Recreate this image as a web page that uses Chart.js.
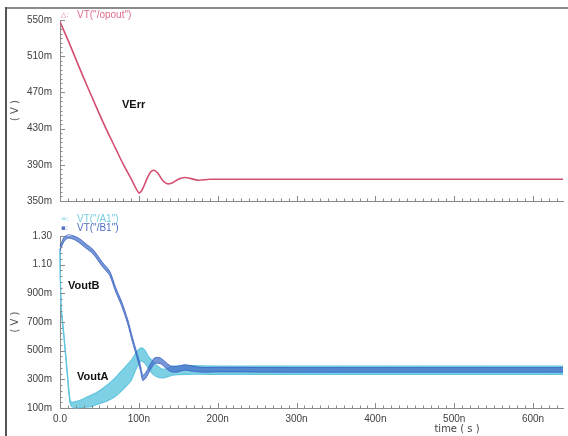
<!DOCTYPE html>
<html>
<head>
<meta charset="utf-8">
<script src="https://cdn.jsdelivr.net/npm/chart.js"></script>
<style>
  html, body { margin: 0; padding: 0; background: #ffffff; }
  #wrap { position: relative; width: 568px; height: 436px; overflow: hidden; background: #fff; }
  #topFrame { position: absolute; left: 5px; top: 7px; width: 563px; height: 2px; background: #8c8c8c; }
  #leftFrame { position: absolute; left: 5px; top: 7px; width: 2px; height: 429px; background: #555; }
  canvas { position: absolute; left: 0; }
  #c1 { top: 0; }
  #c2 { top: 210px; }
</style>
</head>
<body>
<div id="wrap">
  <canvas id="c1" width="568" height="215"></canvas>
  <canvas id="c2" width="568" height="226"></canvas>
  <div id="topFrame"></div>
  <div id="leftFrame"></div>
</div>
<script>
// ---------- DATA (time in ns, voltage in mV) ----------
const errTime  = [0, 10, 20, 30, 40, 50, 60, 70, 80, 90, 100, 104, 110, 115, 119, 124, 130, 136, 142, 150, 158, 165, 175, 190, 250, 400, 638];
const errValue = [548, 528, 507, 486, 466, 446, 427, 409, 391, 375, 359, 362, 374, 382, 384, 381, 373, 369, 370, 374, 376, 375, 373, 374, 374, 374, 374];

const aTime  = [0, 0.5, 1.5, 5, 8, 12.5, 15, 20, 30, 40, 50, 60, 70, 80, 90, 97, 103, 108, 112, 117, 122, 131, 143, 160, 200, 300, 400, 500, 638];
const aUpper = [1215, 1010, 810, 610, 430, 165, 140, 145, 165, 190, 220, 260, 310, 370, 430, 490, 520, 500, 460, 430, 400, 370, 390, 395, 392, 392, 392, 392, 392];
const aLower = [1195, 990, 790, 590, 410, 140, 110, 100, 105, 110, 130, 150, 180, 230, 290, 380, 430, 410, 380, 340, 320, 310, 330, 335, 335, 335, 335, 335, 335];

const bTime  = [0, 5, 10, 18, 25, 33, 42, 54, 63, 71, 78, 86, 92, 97, 102, 105, 109, 114, 120, 127, 133, 140, 148, 158, 168, 180, 200, 300, 400, 500, 638];
const bUpper = [1230, 1290, 1308, 1300, 1280, 1245, 1205, 1115, 1055, 935, 845, 715, 590, 495, 398, 328, 350, 400, 450, 450, 425, 395, 390, 402, 394, 383, 384, 382, 382, 382, 382];
const bLower = [1200, 1260, 1285, 1275, 1250, 1215, 1175, 1085, 1025, 905, 815, 685, 558, 465, 362, 292, 310, 360, 410, 410, 385, 355, 350, 364, 357, 350, 352, 350, 350, 350, 350];

const topTicks = [350, 390, 430, 470, 510, 550];
const bottomTicks = [100, 300, 500, 700, 900, 1100, 1300];
const timeTicks = [0, 100, 200, 300, 400, 500, 600];

// ---------- helpers ----------
const pts = (t, v) => t.map((x, i) => ({ x: x, y: v[i] }));
const fmtV = v => v >= 1000 ? (v / 1000).toFixed(2) : v + 'm';
const fmtT = v => v === 0 ? '0.0' : v + 'n';
const TICK_FONT = { family: 'Liberation Sans', size: 10 };
const TICK_COLOR = '#404040';
const AXIS_COLOR = '#8a8a8a';

const innerTicks = {
  id: 'innerTicks',
  afterDatasetsDraw(chart, args, opts) {
    const { ctx } = chart;
    const x = chart.scales.x, y = chart.scales.y;
    ctx.save();
    ctx.strokeStyle = AXIS_COLOR;
    ctx.lineWidth = 1;
    ctx.beginPath();
    for (let v = x.min; v <= x.max; v += opts.xMinor) {
      const px = Math.round(x.getPixelForValue(v)) + 0.5;
      const major = v % opts.xMajor === 0;
      ctx.moveTo(px, x.top);
      ctx.lineTo(px, x.top - (major ? 5 : 2.5));
    }
    for (let v = y.min; v <= y.max; v += opts.yMinor) {
      const py = Math.round(y.getPixelForValue(v)) + 0.5;
      const major = (v - y.min) % opts.yMajor === 0;
      ctx.moveTo(y.right, py);
      ctx.lineTo(y.right + (major ? 5 : 2.5), py);
    }
    ctx.stroke();
    ctx.restore();
  }
};

const textLabels = {
  id: 'textLabels',
  afterDraw(chart, args, opts) {
    const { ctx } = chart;
    ctx.save();
    (opts.items || []).forEach(it => {
      ctx.font = it.font;
      ctx.fillStyle = it.color;
      ctx.textAlign = it.align || 'left';
      ctx.textBaseline = 'middle';
      ctx.fillText(it.text, it.x, it.y);
    });
    ctx.restore();
  }
};

function xScale(showLabels, height) {
  return {
    type: 'linear', min: 0, max: 638,
    border: { display: true, color: AXIS_COLOR, width: 1 },
    grid: { display: false, drawTicks: false },
    ticks: {
      display: showLabels, stepSize: 100, includeBounds: false, autoSkip: false,
      maxRotation: 0, padding: 5, color: TICK_COLOR, font: TICK_FONT, callback: fmtT
    },
    afterBuildTicks: s => { s.ticks = timeTicks.map(v => ({ value: v })); },
    afterFit: s => { s.height = height; }
  };
}

function yScale(min, max, step, ticks) {
  return {
    type: 'linear', min: min, max: max,
    border: { display: true, color: AXIS_COLOR, width: 1 },
    grid: { display: false, drawTicks: false },
    ticks: { stepSize: step, padding: 8, color: TICK_COLOR, font: TICK_FONT, callback: fmtV, autoSkip: false },
    afterBuildTicks: s => { s.ticks = ticks.map(v => ({ value: v })); },
    title: { display: true, text: '( V )', color: '#555', font: { family: 'DejaVu Sans', size: 10 }, padding: { top: 9, bottom: 0 } },
    afterFit: s => { s.width = 60; }
  };
}

// ---------- top chart ----------
new Chart(document.getElementById('c1'), {
  type: 'line',
  data: {
    datasets: [{
      label: 'VT("/opout")',
      data: pts(errTime, errValue),
      borderColor: 'rgb(212, 78, 112)',
      borderWidth: 1.6,
      pointRadius: 0,
      tension: 0.3,
      fill: false
    }]
  },
  options: {
    responsive: false, animation: false,
    layout: { padding: { top: 20, right: 5, bottom: 0, left: 0 } },
    plugins: {
      legend: { display: false }, tooltip: { enabled: false },
      innerTicks: { xMinor: 10, xMajor: 100, yMinor: 5, yMajor: 40 },
      textLabels: { items: [
        { text: '△:', x: 61, y: 15, font: '7px "DejaVu Sans"', color: 'rgb(222, 120, 148)' },
        { text: 'VT("/opout")', x: 77, y: 15.5, font: '10px "Liberation Sans"', color: 'rgb(222, 110, 140)' },
        { text: 'VErr', x: 122, y: 105, font: 'bold 11px "Liberation Sans"', color: '#111' }
      ] }
    },
    scales: { x: xScale(false, 14), y: yScale(350, 550, 40, topTicks) }
  },
  plugins: [innerTicks, textLabels]
});

// ---------- bottom chart ----------
new Chart(document.getElementById('c2'), {
  type: 'line',
  data: {
    datasets: [
      { label: 'A1 low', order: 2, data: pts(aTime, aLower), borderColor: 'rgb(100, 198, 222)', borderWidth: 1.2, pointRadius: 0, tension: 0.25, fill: false, clip: 4 },
      { label: 'VT("/A1")', order: 2, data: pts(aTime, aUpper), borderColor: 'rgb(100, 198, 222)', borderWidth: 1.2, pointRadius: 0, tension: 0.25, fill: '-1', backgroundColor: 'rgba(112, 204, 226, 0.9)', clip: 4 },
      { label: 'B1 low', order: 1, data: pts(bTime, bLower), borderColor: 'rgba(60, 100, 195, 0.85)', borderWidth: 1, pointRadius: 0, tension: 0.25, fill: false, clip: 4 },
      { label: 'VT("/B1")', order: 1, data: pts(bTime, bUpper), borderColor: 'rgba(60, 100, 195, 0.85)', borderWidth: 1, pointRadius: 0, tension: 0.25, fill: '-1', backgroundColor: 'rgba(66, 110, 200, 0.72)', clip: 4 }
    ]
  },
  options: {
    responsive: false, animation: false,
    layout: { padding: { top: 26, right: 5, bottom: 0, left: 0 } },
    plugins: {
      legend: { display: false }, tooltip: { enabled: false },
      filler: { propagate: false },
      innerTicks: { xMinor: 10, xMajor: 100, yMinor: 40, yMajor: 200 },
      textLabels: { items: [
        { text: '=:', x: 61, y: 9, font: '7px "DejaVu Sans"', color: 'rgb(120, 205, 228)' },
        { text: 'VT("/A1")', x: 77, y: 9, font: '10px "Liberation Sans"', color: 'rgb(120, 205, 228)' },
        { text: '▪:', x: 61, y: 18.5, font: '7px "DejaVu Sans"', color: 'rgb(80, 112, 196)' },
        { text: 'VT("/B1")', x: 77, y: 18.5, font: '10px "Liberation Sans"', color: 'rgb(80, 112, 196)' },
        { text: 'VoutB', x: 68, y: 76, font: 'bold 11px "Liberation Sans"', color: '#111' },
        { text: 'VoutA', x: 77, y: 167, font: 'bold 11px "Liberation Sans"', color: '#111' },
        { text: 'time ( s )', x: 457, y: 219, font: '10px "DejaVu Sans"', color: '#444', align: 'center' }
      ] }
    },
    scales: { x: xScale(true, 28), y: yScale(100, 1300, 200, bottomTicks) }
  },
  plugins: [innerTicks, textLabels]
});
</script>
</body>
</html>
